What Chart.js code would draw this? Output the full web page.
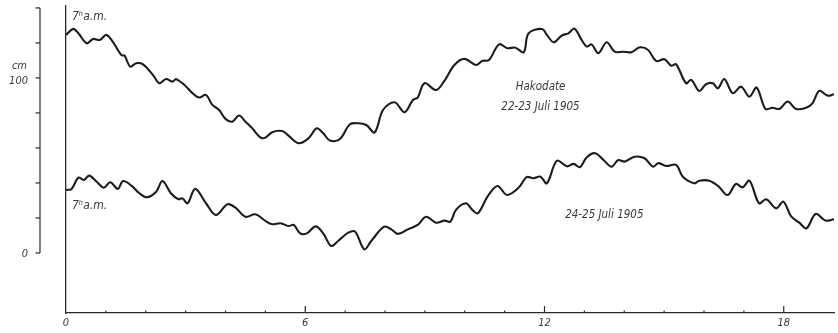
<!DOCTYPE html>
<html>
<head>
<meta charset="utf-8">
<script src="https://cdn.jsdelivr.net/npm/chart.js@4/dist/chart.umd.min.js"></script>
<style>
  html, body { margin: 0; padding: 0; background: #fff; }
  #wrap { width: 838px; height: 333px; position: relative; }
</style>
</head>
<body>
<div id="wrap"><canvas id="tide"></canvas></div>
<script>
// Hakodate tide gauge, hours after 7h a.m.; water level in cm
const topHours = [0, 0.18, 0.31, 0.52, 0.68, 0.85, 1.01, 1.18, 1.39, 1.47, 1.61, 1.76, 1.93, 2.18, 2.34, 2.51, 2.67, 2.76, 2.97, 3.17, 3.34, 3.51, 3.67, 3.84, 4.0, 4.17, 4.34, 4.5, 4.67, 4.88, 5.0, 5.17, 5.42, 5.58, 5.83, 6.08, 6.29, 6.45, 6.62, 6.87, 7.12, 7.33, 7.53, 7.74, 7.95, 8.24, 8.49, 8.7, 8.82, 8.99, 9.28, 9.49, 9.74, 9.99, 10.28, 10.44, 10.61, 10.86, 11.07, 11.27, 11.48, 11.6, 11.94, 12.06, 12.23, 12.43, 12.6, 12.75, 12.93, 13.06, 13.18, 13.35, 13.56, 13.76, 13.97, 14.18, 14.39, 14.6, 14.8, 15.01, 15.18, 15.3, 15.55, 15.68, 15.88, 16.05, 16.22, 16.35, 16.51, 16.72, 16.93, 17.14, 17.32, 17.54, 17.72, 17.89, 18.1, 18.31, 18.56, 18.72, 18.89, 19.1, 19.26];
const topCm = [124.6, 128, 125.5, 119.8, 122.3, 121.7, 124.6, 120.4, 113, 112.7, 106.5, 108.4, 107.8, 101.7, 97, 99.4, 97.9, 99.3, 96, 91.3, 88.8, 90.3, 84.6, 81.7, 76.6, 75, 78.5, 75, 71.2, 65.9, 65.9, 69, 69.7, 67, 62.7, 65.5, 71.2, 68.4, 64.2, 65.1, 73.5, 74.1, 73.1, 68.9, 81.7, 86.1, 80.4, 87.4, 88.8, 97, 93.1, 98.3, 107.4, 110.9, 107.4, 109.7, 110.3, 119.2, 117, 117.3, 114.7, 125.5, 128, 124.6, 120.4, 124.2, 125.5, 128.2, 121.7, 117.9, 119.2, 114.1, 120.4, 115, 115, 114.7, 117.5, 116, 109.7, 110.7, 107, 107.8, 97, 98.9, 92.6, 96.4, 97, 94.1, 99.4, 91.3, 95, 89.3, 94.5, 82.3, 83, 82.3, 86.5, 82.3, 83, 85.5, 92.6, 89.9, 90.7];

const bottomHours = [0, 0.14, 0.31, 0.45, 0.58, 0.77, 0.95, 1.11, 1.3, 1.43, 1.64, 1.84, 2.03, 2.26, 2.42, 2.63, 2.82, 2.92, 3.05, 3.24, 3.51, 3.76, 4.05, 4.25, 4.5, 4.75, 5.0, 5.17, 5.38, 5.58, 5.71, 5.87, 6.04, 6.26, 6.45, 6.65, 6.83, 7.08, 7.25, 7.48, 7.66, 7.98, 8.16, 8.32, 8.57, 8.82, 9.03, 9.28, 9.49, 9.64, 9.78, 10.03, 10.19, 10.33, 10.57, 10.82, 11.06, 11.36, 11.55, 11.73, 11.9, 12.06, 12.31, 12.56, 12.73, 12.89, 13.06, 13.27, 13.48, 13.68, 13.85, 14.01, 14.26, 14.51, 14.72, 14.85, 15.05, 15.3, 15.47, 15.76, 15.88, 16.13, 16.35, 16.59, 16.8, 16.97, 17.14, 17.38, 17.56, 17.81, 17.99, 18.18, 18.39, 18.57, 18.8, 19.05, 19.26];
const bottomCm = [36, 36.6, 43, 41.7, 44.2, 40.7, 37.3, 40.4, 36.6, 41.1, 38.5, 34.1, 31.8, 35, 41.1, 34.1, 30.7, 31.2, 28.4, 36.6, 28.4, 21.7, 27.8, 25.9, 20.7, 22.1, 18.3, 16.4, 17, 15.4, 16, 11.2, 11.2, 15.2, 11.2, 4, 7, 11.6, 12.2, 2.1, 7, 15, 13.5, 10.9, 13.5, 16, 20.7, 17.3, 18.5, 17.9, 24.6, 28.4, 24.6, 22.7, 32.2, 38.3, 33.1, 37.5, 43.3, 42.7, 43.6, 39.8, 52.7, 49.5, 50.9, 49, 54.7, 57, 53.1, 49.3, 53.1, 52.2, 55, 54.1, 49.3, 51.3, 49.7, 50.3, 43.6, 39.8, 41.3, 41.3, 38.3, 33.1, 39.4, 37.5, 41.3, 28.4, 30.7, 25.5, 29.3, 21.1, 17.3, 14.1, 22.3, 18.5, 19.3];

const hourLabels = [0, 6, 12, 18];
const cmTicks = [0, 20, 40, 60, 80, 100, 120, 140];
const cmLabels = [0, 100];

const INK = '#1c1c1c';
const TEXT = '#3a3a3a';
const FONT = "'DejaVu Sans Condensed', 'Liberation Sans Narrow', sans-serif";

const toPoints = (xs, ys) => xs.map((h, i) => ({ x: h, y: ys[i] }));

// axis marks, the separate cm scale and the written notes
const decor = {
  id: 'decor',
  afterDraw(chart) {
    const { ctx, chartArea, scales: { x, y } } = chart;
    ctx.save();
    ctx.strokeStyle = '#2a2a2a';
    ctx.lineWidth = 1.2;
    const line = (x1, y1, x2, y2) => { ctx.beginPath(); ctx.moveTo(x1, y1); ctx.lineTo(x2, y2); ctx.stroke(); };

    // hour marks standing on the time axis
    for (const t of x.ticks) {
      if (!Number.isInteger(t.value) || t.value === 0) continue;
      const px = x.getPixelForValue(t.value);
      const len = hourLabels.includes(t.value) ? 7 : 2.5;
      line(px, chartArea.bottom, px, chartArea.bottom - len);
    }

    // cm scale on the far left
    const sx = 40;
    line(sx, y.getPixelForValue(0), sx, y.getPixelForValue(140));
    for (const v of cmTicks) {
      const py = y.getPixelForValue(v);
      line(sx - 4.5, py, sx, py);
    }
    ctx.fillStyle = TEXT;
    ctx.font = `italic 11px ${FONT}`;
    ctx.textAlign = 'right';
    ctx.textBaseline = 'middle';
    for (const v of cmLabels) {
      ctx.fillText(String(v), 28, y.getPixelForValue(v) + (v === 0 ? 1 : 3));
    }
    ctx.fillText('cm', 27, y.getPixelForValue(100) - 12);

    // notes beside the curves
    ctx.textAlign = 'left';
    ctx.textBaseline = 'alphabetic';
    ctx.font = `italic 12px ${FONT}`;
    ctx.fillText('7ʰa.m.', x.getPixelForValue(0.15), y.getPixelForValue(133));
    ctx.fillText('7ʰa.m.', x.getPixelForValue(0.15), y.getPixelForValue(25));

    ctx.textAlign = 'center';
    ctx.font = `italic 11.5px ${FONT}`;
    ctx.fillText('Hakodate', x.getPixelForValue(11.9), y.getPixelForValue(93));
    ctx.fillText('22-23 Juli 1905', x.getPixelForValue(11.9), y.getPixelForValue(81.5));
    ctx.fillText('24-25 Juli 1905', x.getPixelForValue(13.5), y.getPixelForValue(20));
    ctx.restore();
  }
};

new Chart(document.getElementById('tide'), {
  type: 'line',
  data: {
    datasets: [
      { label: '22-23 Juli 1905', data: toPoints(topHours, topCm) },
      { label: '24-25 Juli 1905', data: toPoints(bottomHours, bottomCm) }
    ]
  },
  options: {
    responsive: true,
    maintainAspectRatio: false,
    animation: false,
    layout: { padding: { top: 6, left: 0, right: 0, bottom: 0 } },
    elements: {
      point: { radius: 0, hoverRadius: 0 },
      line: { borderColor: INK, borderWidth: 2.1, tension: 0.35, fill: false }
    },
    plugins: { legend: { display: false }, tooltip: { enabled: false } },
    scales: {
      x: {
        type: 'linear',
        min: 0,
        max: 19.26,
        afterFit: s => { s.height = 20; },
        grid: { display: false, drawTicks: false },
        border: { display: true, color: '#2a2a2a', width: 1.3 },
        ticks: {
          stepSize: 1,
          autoSkip: false,
          maxRotation: 0,
          padding: 4,
          color: TEXT,
          font: { family: FONT, size: 11, style: 'italic' },
          callback: v => hourLabels.includes(v) ? String(v) : ''
        }
      },
      y: {
        type: 'linear',
        min: -34.3,
        max: 141.1,
        afterFit: s => { s.width = 66; },
        grid: { display: false, drawTicks: false },
        border: { display: true, color: '#2a2a2a', width: 1.3 },
        ticks: { display: false }
      }
    }
  },
  plugins: [decor]
});
</script>
</body>
</html>
